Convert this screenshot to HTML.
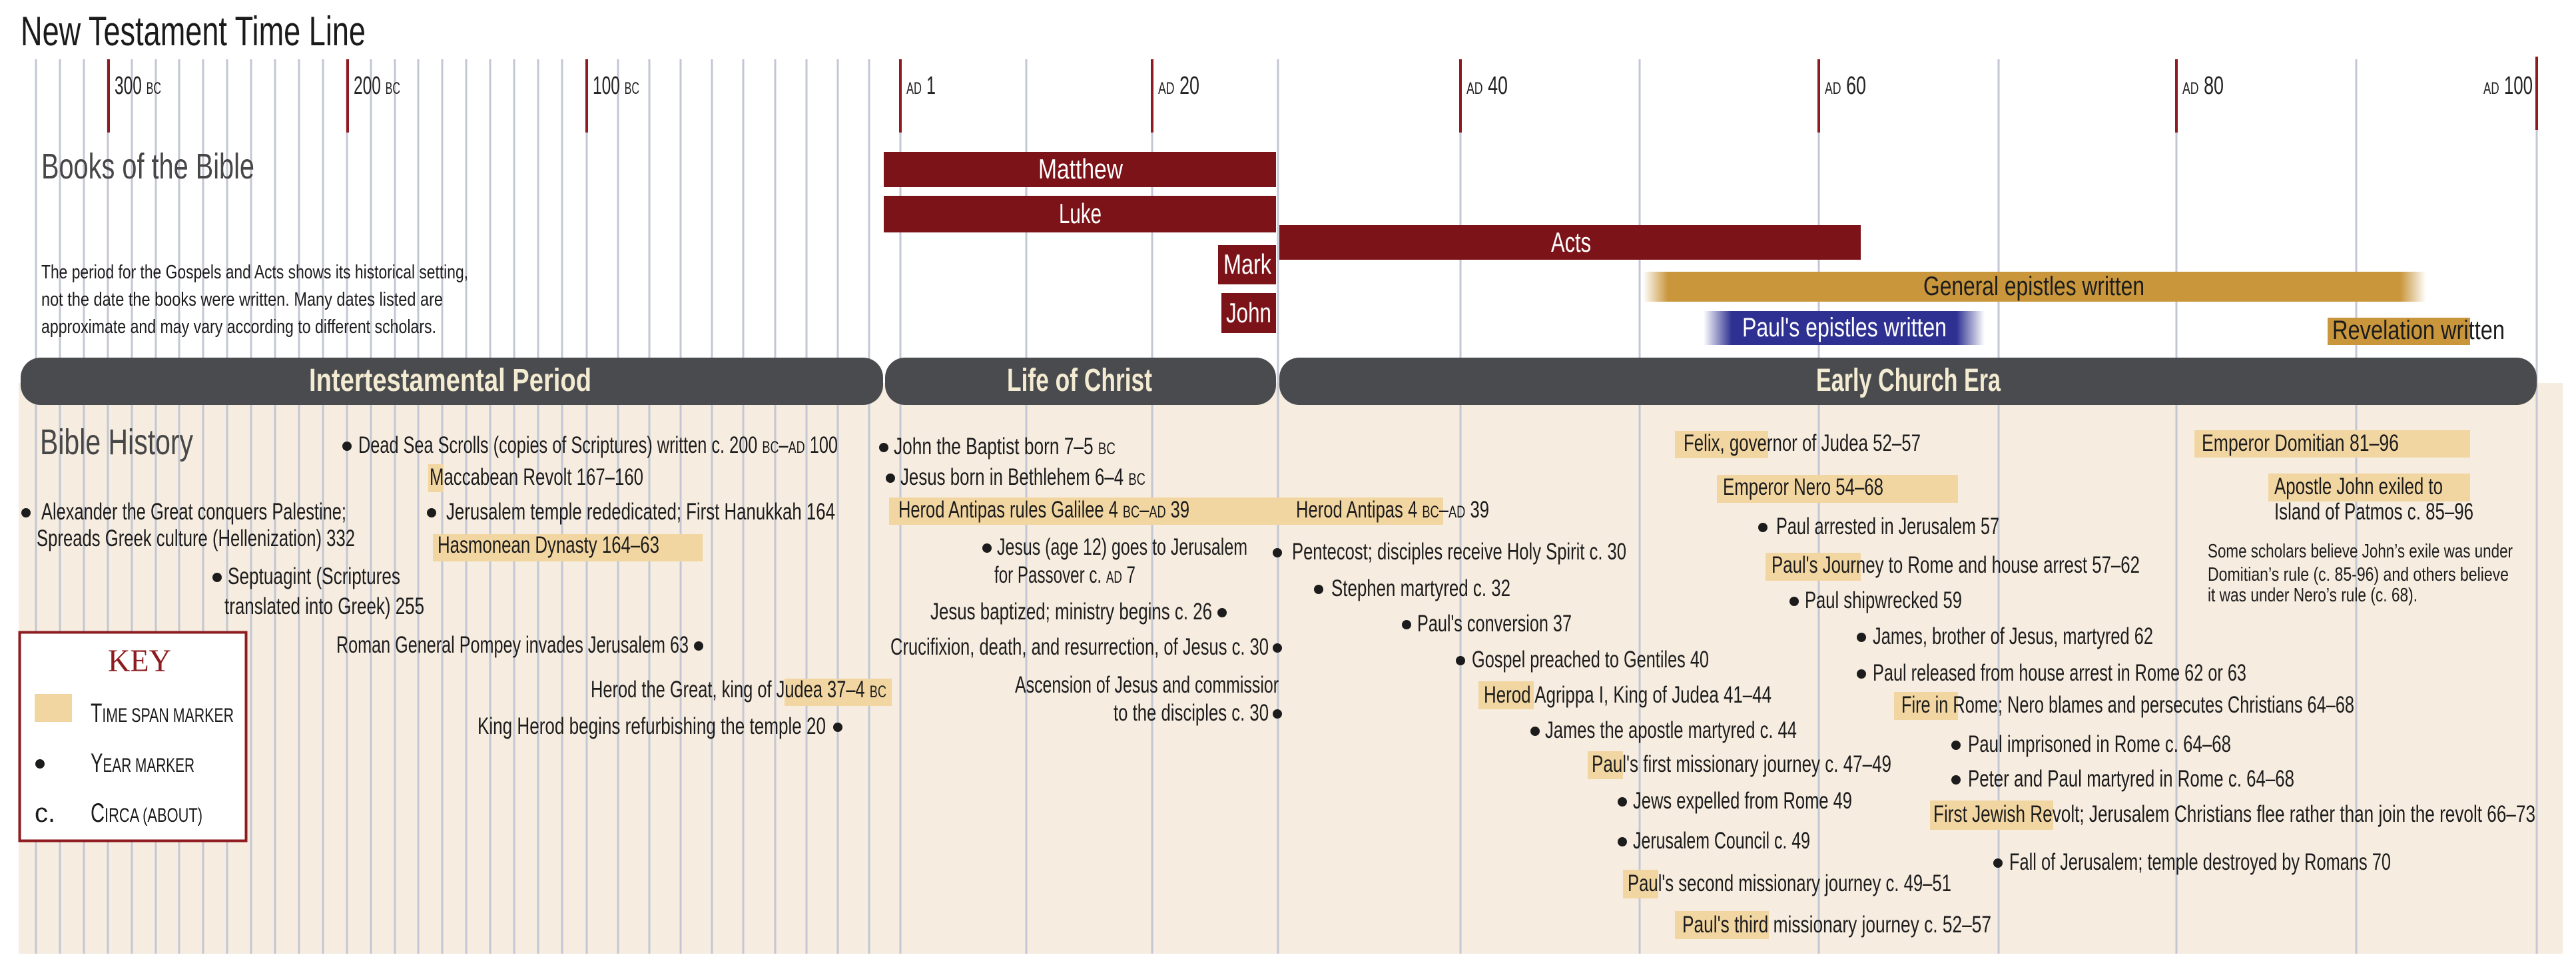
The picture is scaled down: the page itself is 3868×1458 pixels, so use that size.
<!DOCTYPE html>
<html><head><meta charset="utf-8"><style>
html,body{margin:0;padding:0;background:#fff;}
svg{display:block;}
text{font-family:"Liberation Sans Narrow","Liberation Sans",sans-serif;}
.e{font-size:35px;fill:#1c1c1c;}
.n{font-size:29px;fill:#1c1c1c;}
.bk{font-size:42px;fill:#fff;}
.bar{font-size:48px;font-weight:bold;fill:#f4ecd2;}
.tk{font-size:38px;fill:#222;}
.sc{font-size:25px;}
.hl{fill:#f2d6a2;}
</style></head><body>
<svg width="3868" height="1458" viewBox="0 0 3868 1458" xmlns="http://www.w3.org/2000/svg">
<defs>
<linearGradient id="gold" x1="2467" x2="3643" gradientUnits="userSpaceOnUse">
<stop offset="0" stop-color="#c9963c" stop-opacity="0"/><stop offset="0.032" stop-color="#c9963c"/>
<stop offset="0.967" stop-color="#c9963c"/><stop offset="1" stop-color="#c9963c" stop-opacity="0"/></linearGradient>
<linearGradient id="blue" x1="2558" x2="2980" gradientUnits="userSpaceOnUse">
<stop offset="0" stop-color="#2e3192" stop-opacity="0"/><stop offset="0.1" stop-color="#2e3192"/>
<stop offset="0.9" stop-color="#2e3192"/><stop offset="1" stop-color="#2e3192" stop-opacity="0"/></linearGradient>
</defs>
<rect width="3868" height="1458" fill="#fff"/>
<rect x="28" y="575" width="3820" height="857" fill="#f6ece0"/>
<g stroke="#c3c7d4" stroke-width="3">
<line x1="54" y1="89" x2="54" y2="1432"/><line x1="90" y1="89" x2="90" y2="1432"/><line x1="126" y1="89" x2="126" y2="1432"/><line x1="162" y1="89" x2="162" y2="1432"/><line x1="198" y1="89" x2="198" y2="1432"/><line x1="234" y1="89" x2="234" y2="1432"/><line x1="269" y1="89" x2="269" y2="1432"/><line x1="305" y1="89" x2="305" y2="1432"/><line x1="341" y1="89" x2="341" y2="1432"/><line x1="377" y1="89" x2="377" y2="1432"/><line x1="413" y1="89" x2="413" y2="1432"/><line x1="449" y1="89" x2="449" y2="1432"/><line x1="485" y1="89" x2="485" y2="1432"/><line x1="521" y1="89" x2="521" y2="1432"/><line x1="557" y1="89" x2="557" y2="1432"/><line x1="593" y1="89" x2="593" y2="1432"/><line x1="628" y1="89" x2="628" y2="1432"/><line x1="664" y1="89" x2="664" y2="1432"/><line x1="700" y1="89" x2="700" y2="1432"/><line x1="736" y1="89" x2="736" y2="1432"/><line x1="772" y1="89" x2="772" y2="1432"/><line x1="808" y1="89" x2="808" y2="1432"/><line x1="844" y1="89" x2="844" y2="1432"/><line x1="881" y1="89" x2="881" y2="1432"/>
<line x1="928" y1="89" x2="928" y2="1432"/><line x1="975" y1="89" x2="975" y2="1432"/><line x1="1022" y1="89" x2="1022" y2="1432"/><line x1="1069" y1="89" x2="1069" y2="1432"/><line x1="1116" y1="89" x2="1116" y2="1432"/><line x1="1164" y1="89" x2="1164" y2="1432"/><line x1="1211" y1="89" x2="1211" y2="1432"/><line x1="1258" y1="89" x2="1258" y2="1432"/><line x1="1305" y1="89" x2="1305" y2="1432"/><line x1="1352" y1="89" x2="1352" y2="1432"/>
<line x1="1541" y1="89" x2="1541" y2="1432"/><line x1="1730" y1="89" x2="1730" y2="1432"/><line x1="1919" y1="89" x2="1919" y2="1432"/><line x1="2193" y1="89" x2="2193" y2="1432"/><line x1="2462" y1="89" x2="2462" y2="1432"/><line x1="2731" y1="89" x2="2731" y2="1432"/><line x1="3001" y1="89" x2="3001" y2="1432"/><line x1="3268" y1="89" x2="3268" y2="1432"/><line x1="3538" y1="89" x2="3538" y2="1432"/><line x1="3809" y1="89" x2="3809" y2="1432"/>
</g>
<g stroke="#8e1b1f" stroke-width="4">
<line x1="163" y1="89" x2="163" y2="199"/><line x1="522" y1="89" x2="522" y2="199"/><line x1="881" y1="89" x2="881" y2="199"/><line x1="1352" y1="89" x2="1352" y2="199"/><line x1="1730" y1="89" x2="1730" y2="199"/><line x1="2193" y1="89" x2="2193" y2="199"/><line x1="2731" y1="89" x2="2731" y2="199"/><line x1="3268" y1="89" x2="3268" y2="199"/><line x1="3809" y1="85" x2="3809" y2="195"/>
</g>
<text x="31" y="68" font-size="62" fill="#1a1a1a" textLength="518" lengthAdjust="spacingAndGlyphs">New Testament Time Line</text>
<g class="tk">
<text x="172" y="141" textLength="70" lengthAdjust="spacingAndGlyphs">300 <tspan class="sc">BC</tspan></text>
<text x="531" y="141" textLength="70" lengthAdjust="spacingAndGlyphs">200 <tspan class="sc">BC</tspan></text>
<text x="890" y="141" textLength="70" lengthAdjust="spacingAndGlyphs">100 <tspan class="sc">BC</tspan></text>
<text x="1361" y="141" textLength="44" lengthAdjust="spacingAndGlyphs"><tspan class="sc">AD</tspan> 1</text>
<text x="1739" y="141" textLength="62" lengthAdjust="spacingAndGlyphs"><tspan class="sc">AD</tspan> 20</text>
<text x="2202" y="141" textLength="62" lengthAdjust="spacingAndGlyphs"><tspan class="sc">AD</tspan> 40</text>
<text x="2740" y="141" textLength="62" lengthAdjust="spacingAndGlyphs"><tspan class="sc">AD</tspan> 60</text>
<text x="3277" y="141" textLength="62" lengthAdjust="spacingAndGlyphs"><tspan class="sc">AD</tspan> 80</text>
<text x="3729" y="141" textLength="74" lengthAdjust="spacingAndGlyphs"><tspan class="sc">AD</tspan> 100</text>
</g>
<text x="62" y="268" font-size="54" fill="#474747" textLength="320" lengthAdjust="spacingAndGlyphs">Books of the Bible</text>
<text class="n" x="62" y="418" textLength="641" lengthAdjust="spacingAndGlyphs">The period for the Gospels and Acts shows its historical setting,</text>
<text class="n" x="62" y="459" textLength="603" lengthAdjust="spacingAndGlyphs">not the date the books were written.  Many dates listed are</text>
<text class="n" x="62" y="500" textLength="593" lengthAdjust="spacingAndGlyphs">approximate and may vary according to different scholars.</text>
<rect x="1327" y="228" width="589" height="53" fill="#7c1318"/>
<text class="bk" x="1559" y="268" textLength="127" lengthAdjust="spacingAndGlyphs">Matthew</text>
<rect x="1327" y="294" width="589" height="55" fill="#7c1318"/>
<text class="bk" x="1590" y="335" textLength="64" lengthAdjust="spacingAndGlyphs">Luke</text>
<rect x="1829" y="368" width="87" height="59" fill="#7c1318"/>
<text class="bk" x="1873" y="411" text-anchor="middle" textLength="72" lengthAdjust="spacingAndGlyphs">Mark</text>
<rect x="1834" y="440" width="82" height="60" fill="#7c1318"/>
<text class="bk" x="1875" y="484" text-anchor="middle" textLength="68" lengthAdjust="spacingAndGlyphs">John</text>
<rect x="1921" y="338" width="873" height="52" fill="#7c1318"/>
<text class="bk" x="2329" y="378" textLength="60" lengthAdjust="spacingAndGlyphs">Acts</text>
<rect x="2467" y="408" width="1176" height="45" fill="url(#gold)"/>
<text x="2888" y="443" font-size="40" fill="#1c1c1c" textLength="332" lengthAdjust="spacingAndGlyphs">General epistles written</text>
<rect x="2558" y="467" width="422" height="51" fill="url(#blue)"/>
<text x="2616" y="505" font-size="40" fill="#fff" textLength="307" lengthAdjust="spacingAndGlyphs">Paul's epistles written</text>
<rect x="3495" y="477" width="214" height="41" fill="#c9963c"/>
<text x="3502" y="509" font-size="40" fill="#1c1c1c" textLength="259" lengthAdjust="spacingAndGlyphs">Revelation written</text>
<rect x="31" y="537" width="1295" height="71" rx="30" fill="#4a4b4e"/>
<text class="bar" x="464" y="587" textLength="424" lengthAdjust="spacingAndGlyphs">Intertestamental Period</text>
<rect x="1329" y="537" width="587" height="71" rx="30" fill="#4a4b4e"/>
<text class="bar" x="1512" y="587" textLength="218" lengthAdjust="spacingAndGlyphs">Life of Christ</text>
<rect x="1921" y="537" width="1888" height="71" rx="30" fill="#4a4b4e"/>
<text class="bar" x="2727" y="587" textLength="277" lengthAdjust="spacingAndGlyphs">Early Church Era</text>
<text x="60" y="682" font-size="54" fill="#474747" textLength="230" lengthAdjust="spacingAndGlyphs">Bible History</text>
<rect class="hl" x="643" y="697" width="23" height="42"/>
<rect class="hl" x="650" y="802" width="405" height="41"/>
<rect class="hl" x="1178" y="1019" width="161" height="41"/>
<rect class="hl" x="1335" y="747" width="832" height="41"/>
<rect class="hl" x="2220" y="1023" width="83" height="42"/>
<rect class="hl" x="2384" y="1128" width="53" height="42"/>
<rect class="hl" x="2437" y="1306" width="53" height="43"/>
<rect class="hl" x="2515" y="1368" width="141" height="42"/>
<rect class="hl" x="2515" y="647" width="140" height="41"/>
<rect class="hl" x="2578" y="713" width="362" height="42"/>
<rect class="hl" x="2651" y="830" width="143" height="42"/>
<rect class="hl" x="2844" y="1039" width="96" height="42"/>
<rect class="hl" x="2898" y="1202" width="185" height="44"/>
<rect class="hl" x="3295" y="646" width="414" height="41"/>
<rect class="hl" x="3406" y="711" width="303" height="42"/>
<g fill="#1c1c1c">
<circle cx="521" cy="670" r="7"/><circle cx="39" cy="770" r="7"/><circle cx="648" cy="770" r="7"/><circle cx="326" cy="867" r="7"/>
<circle cx="1049" cy="970" r="7"/><circle cx="1258" cy="1092" r="7"/>
<circle cx="1327" cy="672" r="7"/><circle cx="1337" cy="718" r="7"/><circle cx="1482" cy="823" r="7"/><circle cx="1835" cy="920" r="7"/><circle cx="1918" cy="973" r="7"/><circle cx="1918" cy="1072" r="7"/>
<circle cx="1918" cy="830" r="7"/><circle cx="1980" cy="885" r="7"/><circle cx="2112" cy="938" r="7"/><circle cx="2193" cy="992" r="7"/><circle cx="2305" cy="1098" r="7"/>
<circle cx="2436" cy="1204" r="7"/><circle cx="2436" cy="1264" r="7"/><circle cx="2647" cy="792" r="7"/><circle cx="2694" cy="903" r="7"/><circle cx="2795" cy="957" r="7"/><circle cx="2795" cy="1012" r="7"/>
<circle cx="2937" cy="1119" r="7"/><circle cx="2937" cy="1171" r="7"/><circle cx="3000" cy="1296" r="7"/>
</g>
<g class="e">
<text x="538" y="680" textLength="720" lengthAdjust="spacingAndGlyphs">Dead Sea Scrolls (copies of Scriptures) written c. 200 <tspan class="sc">BC</tspan>–<tspan class="sc">AD</tspan> 100</text>
<text x="645" y="728" textLength="321" lengthAdjust="spacingAndGlyphs">Maccabean Revolt 167–160</text>
<text x="62" y="780" textLength="458" lengthAdjust="spacingAndGlyphs">Alexander the Great conquers Palestine;</text>
<text x="55" y="820" textLength="478" lengthAdjust="spacingAndGlyphs">Spreads Greek culture (Hellenization) 332</text>
<text x="670" y="780" textLength="584" lengthAdjust="spacingAndGlyphs">Jerusalem temple rededicated; First Hanukkah 164</text>
<text x="657" y="830" textLength="333" lengthAdjust="spacingAndGlyphs">Hasmonean Dynasty 164–63</text>
<text x="342" y="877" textLength="259" lengthAdjust="spacingAndGlyphs">Septuagint (Scriptures</text>
<text x="337" y="922" textLength="300" lengthAdjust="spacingAndGlyphs">translated into Greek) 255</text>
<text x="505" y="980" textLength="529" lengthAdjust="spacingAndGlyphs">Roman General Pompey invades Jerusalem 63</text>
<text x="887" y="1047" textLength="444" lengthAdjust="spacingAndGlyphs">Herod the Great, king of Judea 37–4 <tspan class="sc">BC</tspan></text>
<text x="717" y="1102" textLength="523" lengthAdjust="spacingAndGlyphs">King Herod begins refurbishing the temple 20</text>
<text x="1342" y="682" textLength="333" lengthAdjust="spacingAndGlyphs">John the Baptist born 7–5 <tspan class="sc">BC</tspan></text>
<text x="1352" y="728" textLength="368" lengthAdjust="spacingAndGlyphs">Jesus born in Bethlehem 6–4 <tspan class="sc">BC</tspan></text>
<text x="1349" y="777" textLength="437" lengthAdjust="spacingAndGlyphs">Herod Antipas rules Galilee 4 <tspan class="sc">BC</tspan>–<tspan class="sc">AD</tspan> 39</text>
<text x="1946" y="777" textLength="290" lengthAdjust="spacingAndGlyphs">Herod Antipas 4 <tspan class="sc">BC</tspan>–<tspan class="sc">AD</tspan> 39</text>
<text x="1497" y="833" textLength="376" lengthAdjust="spacingAndGlyphs">Jesus (age 12) goes to Jerusalem</text>
<text x="1493" y="875" textLength="212" lengthAdjust="spacingAndGlyphs">for Passover c. <tspan class="sc">AD</tspan> 7</text>
<text x="1940" y="840" textLength="502" lengthAdjust="spacingAndGlyphs">Pentecost;  disciples receive Holy Spirit c. 30</text>
<text x="1999" y="895" textLength="269" lengthAdjust="spacingAndGlyphs">Stephen martyred c. 32</text>
<text x="1397" y="930" textLength="423" lengthAdjust="spacingAndGlyphs">Jesus baptized; ministry begins c. 26</text>
<text x="2128" y="948" textLength="232" lengthAdjust="spacingAndGlyphs">Paul's conversion 37</text>
<text x="1337" y="983" textLength="568" lengthAdjust="spacingAndGlyphs">Crucifixion, death, and resurrection, of Jesus c. 30</text>
<text x="2210" y="1002" textLength="356" lengthAdjust="spacingAndGlyphs">Gospel preached to Gentiles 40</text>
<text x="1524" y="1040" textLength="396" lengthAdjust="spacingAndGlyphs">Ascension of Jesus and commissior</text>
<text x="1672" y="1082" textLength="233" lengthAdjust="spacingAndGlyphs">to the disciples c. 30</text>
<text x="2228" y="1055" textLength="432" lengthAdjust="spacingAndGlyphs">Herod Agrippa I, King of Judea 41–44</text>
<text x="2320" y="1108" textLength="378" lengthAdjust="spacingAndGlyphs">James the apostle martyred c. 44</text>
<text x="2390" y="1159" textLength="450" lengthAdjust="spacingAndGlyphs">Paul's first missionary journey c. 47–49</text>
<text x="2452" y="1214" textLength="329" lengthAdjust="spacingAndGlyphs">Jews expelled from Rome 49</text>
<text x="2452" y="1274" textLength="266" lengthAdjust="spacingAndGlyphs">Jerusalem Council c. 49</text>
<text x="2444" y="1338" textLength="486" lengthAdjust="spacingAndGlyphs">Paul's second missionary journey c. 49–51</text>
<text x="2526" y="1400" textLength="464" lengthAdjust="spacingAndGlyphs">Paul's third missionary journey c. 52–57</text>
<text x="2528" y="677" textLength="356" lengthAdjust="spacingAndGlyphs">Felix, governor of Judea 52–57</text>
<text x="2587" y="743" textLength="241" lengthAdjust="spacingAndGlyphs">Emperor Nero 54–68</text>
<text x="2667" y="802" textLength="335" lengthAdjust="spacingAndGlyphs">Paul arrested in Jerusalem 57</text>
<text x="2660" y="860" textLength="553" lengthAdjust="spacingAndGlyphs">Paul's Journey to Rome and  house arrest 57–62</text>
<text x="2710" y="913" textLength="236" lengthAdjust="spacingAndGlyphs">Paul shipwrecked 59</text>
<text x="2812" y="967" textLength="421" lengthAdjust="spacingAndGlyphs">James, brother of Jesus, martyred 62</text>
<text x="2812" y="1022" textLength="561" lengthAdjust="spacingAndGlyphs">Paul released from house arrest in Rome 62 or 63</text>
<text x="2855" y="1070" textLength="680" lengthAdjust="spacingAndGlyphs">Fire in Rome; Nero blames and persecutes Christians 64–68</text>
<text x="2955" y="1129" textLength="395" lengthAdjust="spacingAndGlyphs">Paul imprisoned in Rome c. 64–68</text>
<text x="2955" y="1181" textLength="490" lengthAdjust="spacingAndGlyphs">Peter and Paul martyred in Rome c. 64–68</text>
<text x="2903" y="1234" textLength="904" lengthAdjust="spacingAndGlyphs">First Jewish Revolt; Jerusalem Christians flee rather than join the revolt  66–73</text>
<text x="3017" y="1306" textLength="573" lengthAdjust="spacingAndGlyphs">Fall of Jerusalem; temple destroyed by Romans 70</text>
<text x="3306" y="677" textLength="296" lengthAdjust="spacingAndGlyphs">Emperor Domitian 81–96</text>
<text x="3415" y="742" textLength="253" lengthAdjust="spacingAndGlyphs">Apostle John exiled to</text>
<text x="3415" y="780" textLength="299" lengthAdjust="spacingAndGlyphs">Island of Patmos c. 85–96</text>
</g>
<text class="n" x="3315" y="837" textLength="458" lengthAdjust="spacingAndGlyphs">Some scholars believe John’s exile was under</text>
<text class="n" x="3315" y="872" textLength="452" lengthAdjust="spacingAndGlyphs">Domitian’s rule (c. 85-96) and others believe</text>
<text class="n" x="3315" y="903" textLength="315" lengthAdjust="spacingAndGlyphs">it was under Nero’s rule (c. 68).</text>
<rect x="29.5" y="949.5" width="340" height="313" fill="#fff" stroke="#8e1b1f" stroke-width="4"/>
<text x="162" y="1008" font-size="48" fill="#8e1b1f" textLength="95" lengthAdjust="spacingAndGlyphs" style="font-family:'Liberation Serif',serif">KEY</text>
<rect class="hl" x="52" y="1042" width="56" height="42"/>
<text x="136" y="1084" font-size="40" fill="#1c1c1c" textLength="215" lengthAdjust="spacingAndGlyphs">T<tspan font-size="30">IME SPAN MARKER</tspan></text>
<circle cx="60" cy="1147" r="7" fill="#1c1c1c"/>
<text x="136" y="1159" font-size="40" fill="#1c1c1c" textLength="156" lengthAdjust="spacingAndGlyphs">Y<tspan font-size="30">EAR MARKER</tspan></text>
<text x="52" y="1234" font-size="40" fill="#1c1c1c">c.</text>
<text x="136" y="1234" font-size="40" fill="#1c1c1c" textLength="168" lengthAdjust="spacingAndGlyphs">C<tspan font-size="30">IRCA (ABOUT)</tspan></text>
</svg>
</body></html>
